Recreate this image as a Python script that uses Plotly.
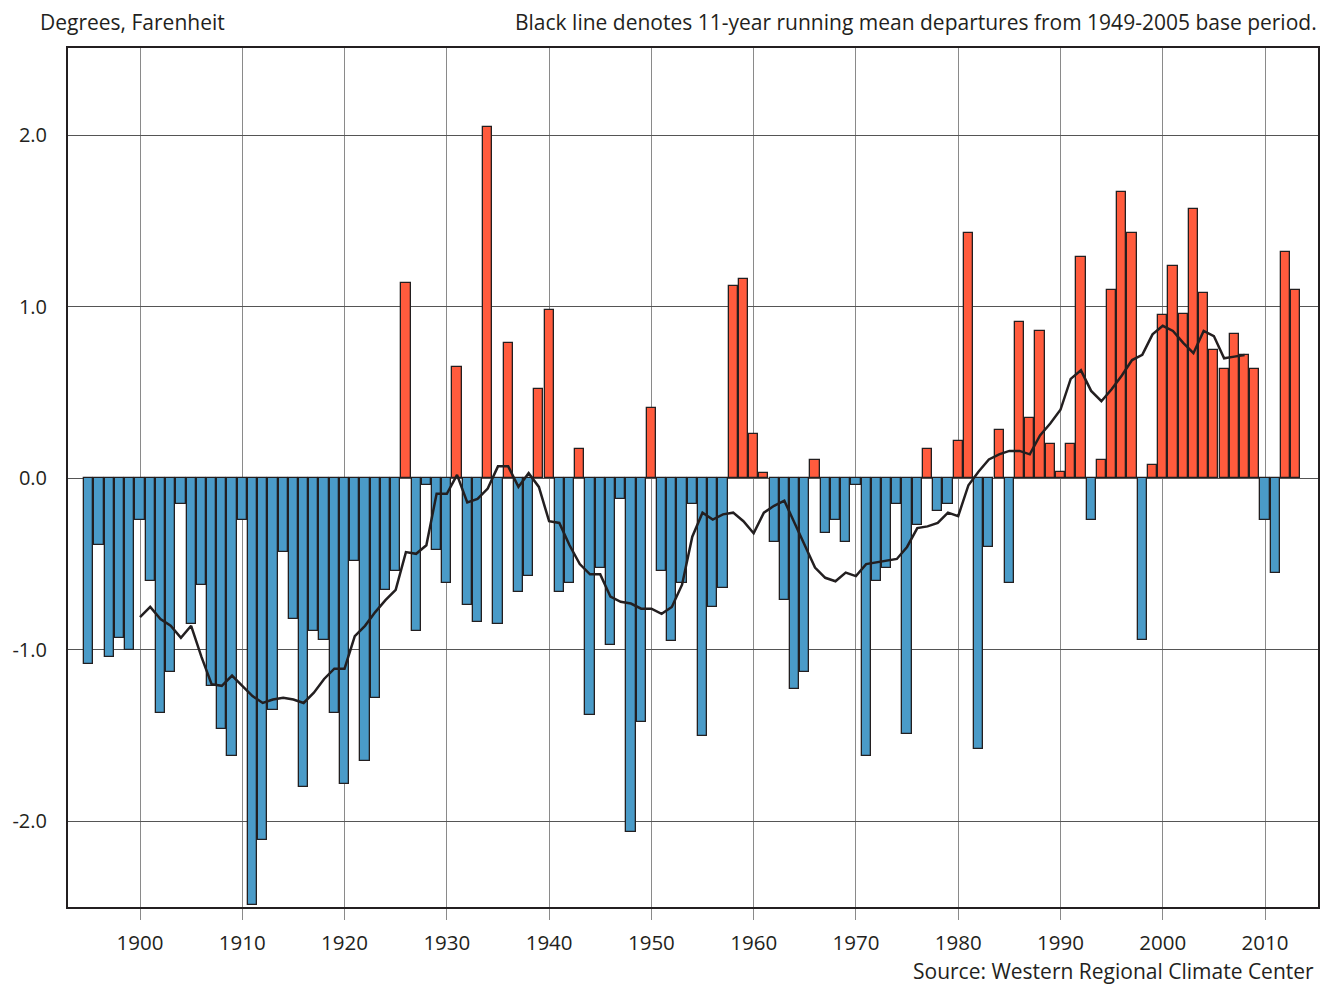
import plotly.graph_objects as go

# ── Palette ───────────────────────────────────────────────────────────────────
WARM  = "#ff5b3d"
COOL  = "#4a9bc8"
INK   = "#231f20"
VGRID = "#8a8a8a"
HGRID = "#555555"
FONT  = "Open Sans, Noto Sans, sans-serif"

# ── Data: annual departures (deg F), 1895-2013 ────────────────────────────────
years = list(range(1895, 2014))

dep_1895_1909 = [-1.08, -0.39, -1.04, -0.93, -1.00, -0.24, -0.60, -1.37, -1.13, -0.15,
                 -0.85, -0.62, -1.21, -1.46, -1.62]
dep_1910s = [-0.24, -2.49, -2.11, -1.35, -0.43, -0.82, -1.80, -0.89, -0.94, -1.37]
dep_1920s = [-1.78, -0.48, -1.65, -1.28, -0.65, -0.54, 1.14, -0.89, -0.04, -0.42]
dep_1930s = [-0.61, 0.65, -0.74, -0.84, 2.05, -0.85, 0.79, -0.66, -0.57, 0.52]
dep_1940s = [0.98, -0.66, -0.61, 0.17, -1.38, -0.52, -0.97, -0.12, -2.06, -1.42]
dep_1950s = [0.41, -0.54, -0.95, -0.61, -0.15, -1.50, -0.75, -0.64, 1.12, 1.16]
dep_1960s = [0.26, 0.03, -0.37, -0.71, -1.23, -1.13, 0.11, -0.32, -0.24, -0.37]
dep_1970s = [-0.04, -1.62, -0.60, -0.52, -0.15, -1.49, -0.27, 0.17, -0.19, -0.15]
dep_1980s = [0.22, 1.43, -1.58, -0.40, 0.28, -0.61, 0.91, 0.35, 0.86, 0.20]
dep_1990s = [0.04, 0.20, 1.29, -0.24, 0.11, 1.10, 1.67, 1.43, -0.94, 0.08]
dep_2000s = [0.95, 1.24, 0.96, 1.57, 1.08, 0.75, 0.64, 0.84, 0.72, 0.64]
dep_2010s = [-0.24, -0.55, 1.32, 1.10]

departures = (dep_1895_1909 + dep_1910s + dep_1920s + dep_1930s + dep_1940s + dep_1950s
              + dep_1960s + dep_1970s + dep_1980s + dep_1990s + dep_2000s + dep_2010s)

# 11-year running mean (1900-2008)
mean_years = list(range(1900, 2009))
mean_1900s = [-0.81, -0.75, -0.82, -0.86, -0.93, -0.86, -1.04, -1.20, -1.21, -1.15]
mean_1910s = [-1.21, -1.27, -1.31, -1.29, -1.28, -1.29, -1.31, -1.25, -1.17, -1.11]
mean_1920s = [-1.11, -0.92, -0.86, -0.78, -0.71, -0.65, -0.43, -0.44, -0.39, -0.09]
mean_1930s = [-0.09, 0.02, -0.14, -0.12, -0.06, 0.07, 0.07, -0.05, 0.03, -0.05]
mean_1940s = [-0.25, -0.26, -0.39, -0.50, -0.56, -0.56, -0.69, -0.72, -0.73, -0.76]
mean_1950s = [-0.76, -0.79, -0.75, -0.62, -0.34, -0.20, -0.24, -0.21, -0.20, -0.25]
mean_1960s = [-0.32, -0.20, -0.16, -0.13, -0.26, -0.39, -0.52, -0.58, -0.60, -0.55]
mean_1970s = [-0.57, -0.50, -0.49, -0.48, -0.47, -0.40, -0.29, -0.28, -0.26, -0.20]
mean_1980s = [-0.22, -0.04, 0.04, 0.11, 0.14, 0.16, 0.16, 0.14, 0.25, 0.32]
mean_1990s = [0.40, 0.58, 0.63, 0.51, 0.45, 0.52, 0.60, 0.69, 0.72, 0.84]
mean_2000s = [0.89, 0.86, 0.79, 0.73, 0.86, 0.83, 0.70, 0.71, 0.72]

running_mean = (mean_1900s + mean_1910s + mean_1920s + mean_1930s + mean_1940s + mean_1950s
                + mean_1960s + mean_1970s + mean_1980s + mean_1990s + mean_2000s)

x_ticks = [1900, 1910, 1920, 1930, 1940, 1950, 1960, 1970, 1980, 1990, 2000, 2010]
y_ticks = [-2.0, -1.0, 0.0, 1.0, 2.0]
y_labels = ["-2.0", "-1.0", "0.0", "1.0", "2.0"]

# ── Figure ────────────────────────────────────────────────────────────────────
fig = go.Figure()

fig.add_trace(go.Bar(
    x=years, y=departures,
    width=0.9,
    marker=dict(color=[WARM if v >= 0 else COOL for v in departures],
                line=dict(color=INK, width=1.3)),
    showlegend=False,
))

fig.add_trace(go.Scatter(
    x=mean_years, y=running_mean,
    mode="lines",
    line=dict(color=INK, width=2.5),
    showlegend=False,
))

# page body has an 8px margin, so the figure is sized/margined to land the
# plot frame at (68,48)-(1318,907) in the browser window
fig.update_layout(
    width=1324, height=977,
    paper_bgcolor="white", plot_bgcolor="white",
    font=dict(family=FONT, color=INK, size=21),
    margin=dict(l=60, r=14, t=40, b=78),
    bargap=0,
    xaxis=dict(
        range=[1892.96, 2015.18],
        tickvals=x_ticks,
        ticks="outside", ticklen=11, tickcolor=VGRID, tickwidth=1,
        ticklabelstandoff=5,
        showgrid=True, gridcolor=VGRID, gridwidth=1,
        showline=True, mirror=True, linecolor=INK, linewidth=2,
        zeroline=False, automargin=False,
        tickfont=dict(size=20.5),
    ),
    yaxis=dict(
        range=[-2.5, 2.51],
        tickvals=y_ticks, ticktext=y_labels,
        ticks="", ticklabelstandoff=15,
        showgrid=True, gridcolor=HGRID, gridwidth=1,
        showline=True, mirror=True, linecolor=INK, linewidth=2,
        zeroline=False, automargin=False,
        tickfont=dict(size=20),
    ),
    annotations=[
        dict(text="Degrees, Farenheit", xref="paper", yref="paper",
             x=-0.024, y=1.0303, xanchor="left", yanchor="middle",
             showarrow=False, font=dict(size=21)),
        dict(text="Black line denotes 11-year running mean departures from 1949-2005 base period.",
             xref="paper", yref="paper", x=1.0008, y=1.0303,
             xanchor="right", yanchor="middle", showarrow=False, font=dict(size=21)),
        dict(text="Source: Western Regional Climate Center", xref="paper", yref="paper",
             x=0.998, y=-0.0745, xanchor="right", yanchor="middle",
             showarrow=False, font=dict(size=21)),
    ],
)

fig.write_html("out.html")
